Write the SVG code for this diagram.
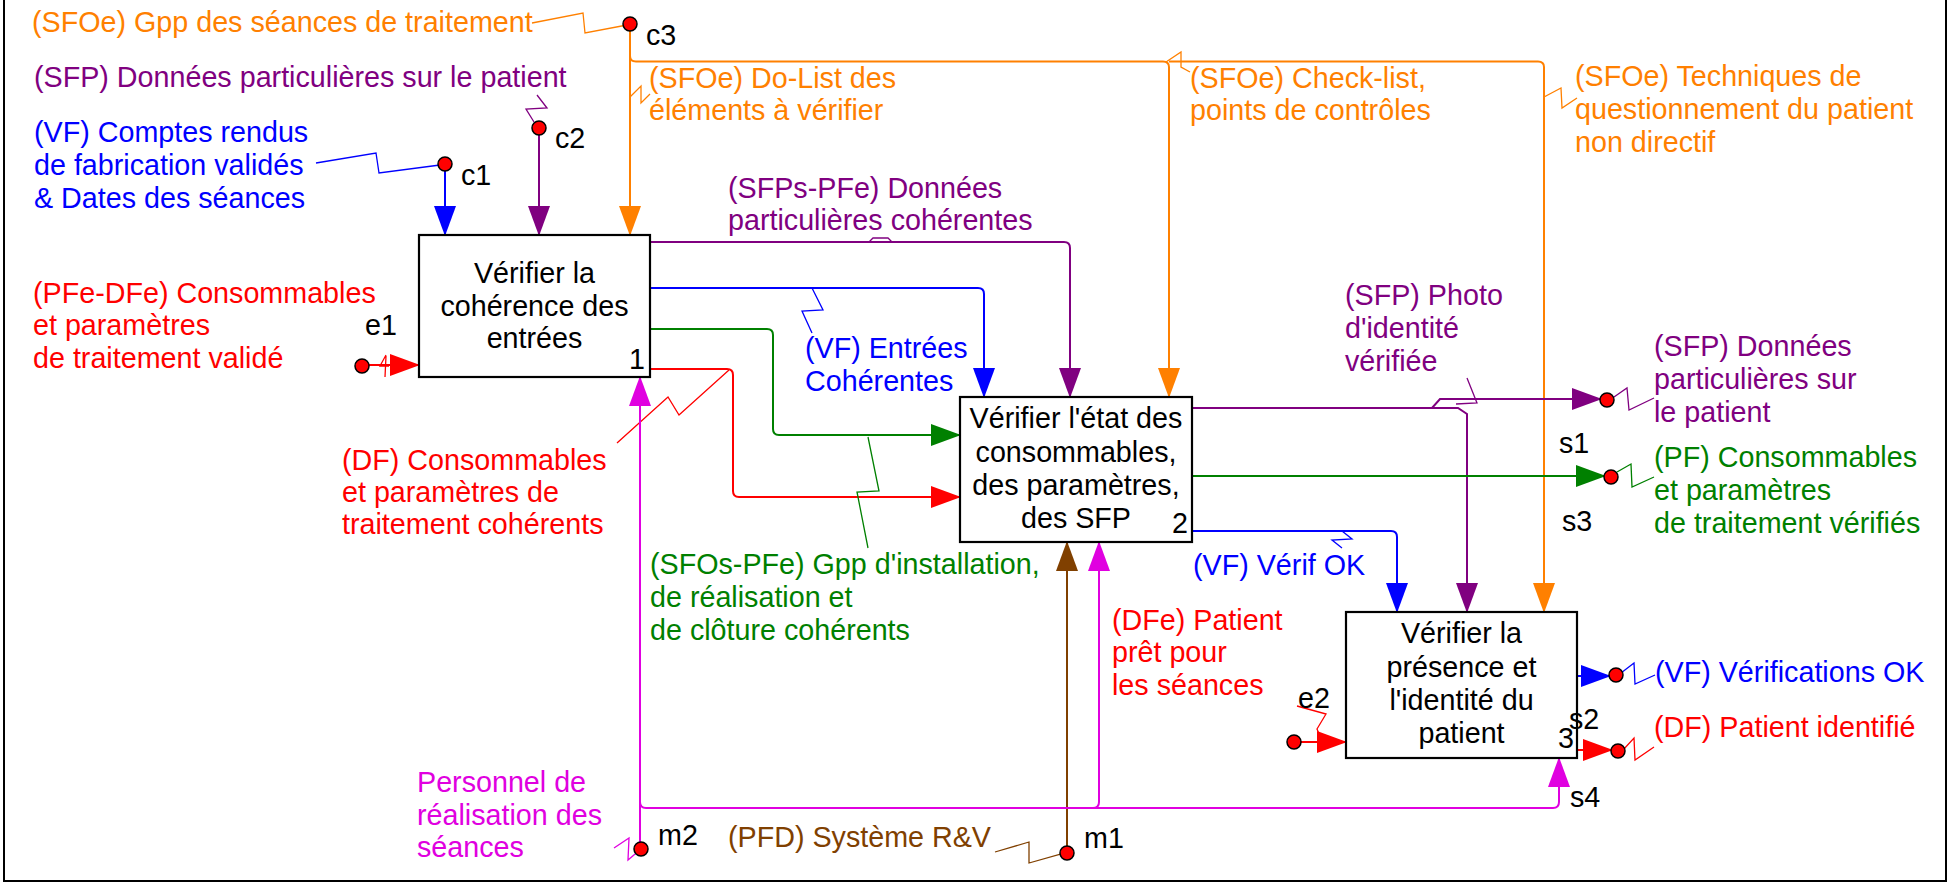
<svg xmlns="http://www.w3.org/2000/svg" width="1954" height="885" viewBox="0 0 1954 885">
<style>
text{font-family:"Liberation Sans",Arial,sans-serif;font-size:28.7px}
.k{fill:#000}.o{fill:#FF8000}.p{fill:#800080}.b{fill:#0000FF}.r{fill:#FF0000}.g{fill:#008000}.n{fill:#804000}.m{fill:#E000E0}
.box{fill:#fff;stroke:#000;stroke-width:2.2}
.c{fill:none;stroke-width:2}
.s{fill:none;stroke-width:1.3}
.so{stroke:#FF8000}.sp{stroke:#800080}.sb{stroke:#0000FF}.sr{stroke:#FF0000}.sg{stroke:#008000}.sn{stroke:#804000}.sm{stroke:#E000E0}
.dot{fill:#FF0000;stroke:#000;stroke-width:1.5}
</style>
<defs>
<marker id="aO" markerUnits="userSpaceOnUse" viewBox="0 0 30 24" markerWidth="30" markerHeight="24" refX="29" refY="12" orient="auto"><path d="M0,1 L30,12 L0,23 Z" fill="#FF8000"/></marker>
<marker id="aP" markerUnits="userSpaceOnUse" viewBox="0 0 30 24" markerWidth="30" markerHeight="24" refX="29" refY="12" orient="auto"><path d="M0,1 L30,12 L0,23 Z" fill="#800080"/></marker>
<marker id="aB" markerUnits="userSpaceOnUse" viewBox="0 0 30 24" markerWidth="30" markerHeight="24" refX="29" refY="12" orient="auto"><path d="M0,1 L30,12 L0,23 Z" fill="#0000FF"/></marker>
<marker id="aR" markerUnits="userSpaceOnUse" viewBox="0 0 30 24" markerWidth="30" markerHeight="24" refX="29" refY="12" orient="auto"><path d="M0,1 L30,12 L0,23 Z" fill="#FF0000"/></marker>
<marker id="aG" markerUnits="userSpaceOnUse" viewBox="0 0 30 24" markerWidth="30" markerHeight="24" refX="29" refY="12" orient="auto"><path d="M0,1 L30,12 L0,23 Z" fill="#008000"/></marker>
<marker id="aN" markerUnits="userSpaceOnUse" viewBox="0 0 30 24" markerWidth="30" markerHeight="24" refX="29" refY="12" orient="auto"><path d="M0,1 L30,12 L0,23 Z" fill="#804000"/></marker>
<marker id="aM" markerUnits="userSpaceOnUse" viewBox="0 0 30 24" markerWidth="30" markerHeight="24" refX="29" refY="12" orient="auto"><path d="M0,1 L30,12 L0,23 Z" fill="#E000E0"/></marker>
</defs>
<rect x="0" y="0" width="1954" height="885" fill="#fff"/>
<path d="M4,0 V881 H1946 V0" fill="none" stroke="#000" stroke-width="2"/>

<g id="connectors">
<!-- orange controls -->
<path class="c so" d="M630,24 V235" marker-end="url(#aO)"/>
<path class="c so" d="M630,56 Q630,61.5 636,61.5 H1163 Q1169,61.5 1169,67 V397" marker-end="url(#aO)"/>
<path class="c so" d="M1169,61.5 H1538 Q1544,61.5 1544,67 V612" marker-end="url(#aO)"/>
<path class="s so" d="M532,23 L583,13 L585,33 L627,25"/>
<path class="s so" d="M630,97 L641,86 L641,103 L650,94"/>
<path class="s so" d="M1166,62 L1181,52 L1181,67 L1190,72"/>
<path class="s so" d="M1544,97 L1561,88 L1562,108 L1577,98"/>
<!-- purple -->
<path class="c sp" d="M539,128 V235" marker-end="url(#aP)"/>
<path class="s sp" d="M537,95 L547,108 L526,109 L534,122"/>
<path class="c sp" d="M650,242 H1064 Q1070,242 1070,248 V397" marker-end="url(#aP)"/>
<path class="s sp" d="M869,242 L873,238 L888,238 L892,242"/>
<path class="c sp" d="M1192,408 H1432 L1440,399 H1601" marker-end="url(#aP)"/>
<path class="c sp" d="M1432,408 H1458 L1467,414 V612" marker-end="url(#aP)"/>
<path class="s sp" d="M1467,378 L1477,403 L1456,404"/>
<path class="s sp" d="M1614,397 L1627,388 L1629,410 L1654,398"/>
<!-- blue -->
<path class="c sb" d="M445,164 V235" marker-end="url(#aB)"/>
<path class="s sb" d="M316,163 L376,153 L379,173 L440,165"/>
<path class="c sb" d="M650,288 H978 Q984,288 984,294 V397" marker-end="url(#aB)"/>
<path class="s sb" d="M812,288 L823,310 L802,311 L812,333"/>
<path class="c sb" d="M1192,531 H1391 Q1397,531 1397,537 V612" marker-end="url(#aB)"/>
<path class="s sb" d="M1342,531 L1352,539 L1332,540 L1342,548"/>
<path class="c sb" d="M1577,676 H1610" marker-end="url(#aB)"/>
<path class="s sb" d="M1621,673 L1634,663 L1635,684 L1655,675"/>
<!-- red -->
<path class="c sr" d="M362,365 H419" marker-end="url(#aR)"/>
<path class="s sr" d="M386,355 L380,366 L389,366 M386,356 L385,377"/>
<path class="c sr" d="M650,369 H727 Q733,369 733,375 V491 Q733,497 739,497 H960" marker-end="url(#aR)"/>
<path class="s sr" d="M617,443 L668,397 L679,415 L729,370"/>
<path class="c sr" d="M1294,742 H1346" marker-end="url(#aR)"/>
<path class="s sr" d="M1297,706 L1326,714 L1317,729 L1322,741"/>
<path class="c sr" d="M1577,750 H1612" marker-end="url(#aR)"/>
<path class="s sr" d="M1623,750 L1634,738 L1635,760 L1654,747"/>
<!-- green -->
<path class="c sg" d="M650,329 H767 Q773,329 773,335 V429 Q773,435 779,435 H960" marker-end="url(#aG)"/>
<path class="s sg" d="M868,437 L879,491 L857,492 L868,548"/>
<path class="c sg" d="M1192,476 H1605" marker-end="url(#aG)"/>
<path class="s sg" d="M1617,472 L1631,464 L1632,487 L1654,477"/>
<!-- brown -->
<path class="c sn" d="M1067,853 V542" marker-end="url(#aN)"/>
<path class="s sn" d="M995,852 L1029,842 L1029,863 L1064,853"/>
<!-- magenta -->
<path class="c sm" d="M640,849 V377" marker-end="url(#aM)"/>
<path class="c sm" d="M640,802 Q640,808 646,808 H1553 Q1559,808 1559,802 V758" marker-end="url(#aM)"/>
<path class="c sm" d="M1093,808 Q1099,808 1099,802 V542" marker-end="url(#aM)"/>
<path class="s sm" d="M614,848 L629,838 L628,860 L641,849"/>
<!-- tunnel dots -->
<circle class="dot" cx="445" cy="164" r="7"/>
<circle class="dot" cx="539" cy="128" r="7"/>
<circle class="dot" cx="630" cy="24" r="7"/>
<circle class="dot" cx="362" cy="366" r="7"/>
<circle class="dot" cx="1294" cy="742" r="7"/>
<circle class="dot" cx="1067" cy="853" r="7"/>
<circle class="dot" cx="641" cy="849" r="7"/>
<circle class="dot" cx="1607" cy="400" r="7"/>
<circle class="dot" cx="1611" cy="477" r="7"/>
<circle class="dot" cx="1616" cy="675" r="7"/>
<circle class="dot" cx="1618" cy="751" r="7"/>
</g>

<g id="box1">
<rect class="box" x="419" y="235" width="231" height="142"/>
<text class="k" x="534.5" y="283" text-anchor="middle">Vérifier la</text>
<text class="k" x="534.5" y="316" text-anchor="middle">cohérence des</text>
<text class="k" x="534.5" y="348" text-anchor="middle">entrées</text>
<text class="k" x="645" y="369" text-anchor="end">1</text>
</g>
<g id="box2">
<rect class="box" x="960" y="397" width="232" height="145"/>
<text class="k" x="1076" y="428" text-anchor="middle">Vérifier l'état des</text>
<text class="k" x="1076" y="462" text-anchor="middle">consommables,</text>
<text class="k" x="1076" y="495" text-anchor="middle">des paramètres,</text>
<text class="k" x="1076" y="528" text-anchor="middle">des SFP</text>
<text class="k" x="1188" y="533" text-anchor="end">2</text>
</g>
<g id="box3">
<rect class="box" x="1346" y="612" width="231" height="146"/>
<text class="k" x="1461.5" y="643" text-anchor="middle">Vérifier la</text>
<text class="k" x="1461.5" y="677" text-anchor="middle">présence et</text>
<text class="k" x="1461.5" y="710" text-anchor="middle">l'identité du</text>
<text class="k" x="1461.5" y="743" text-anchor="middle">patient</text>
<text class="k" x="1574" y="748" text-anchor="end">3</text>
</g>

<g id="tunnel-labels">
<text class="k" x="461" y="185">c1</text>
<text class="k" x="555" y="148">c2</text>
<text class="k" x="646" y="45">c3</text>
<text class="k" x="365" y="335">e1</text>
<text class="k" x="1298" y="708">e2</text>
<text class="k" x="1084" y="848">m1</text>
<text class="k" x="658" y="845">m2</text>
<text class="k" x="1559" y="453">s1</text>
<text class="k" x="1569" y="729">s2</text>
<text class="k" x="1562" y="531">s3</text>
<text class="k" x="1570" y="807">s4</text>
</g>

<g id="arrow-labels">
<text class="o" x="32" y="32">(SFOe) Gpp des séances de traitement</text>
<text class="p" x="34" y="87">(SFP) Données particulières sur le patient</text>
<text class="b" x="34" y="142">(VF) Comptes rendus</text>
<text class="b" x="34" y="175">de fabrication validés</text>
<text class="b" x="34" y="208">&amp; Dates des séances</text>
<text class="r" x="33" y="303">(PFe-DFe) Consommables</text>
<text class="r" x="33" y="335">et paramètres</text>
<text class="r" x="33" y="368">de traitement validé</text>
<text class="o" x="649" y="88">(SFOe) Do-List des</text>
<text class="o" x="649" y="120">éléments à vérifier</text>
<text class="o" x="1190" y="88">(SFOe) Check-list,</text>
<text class="o" x="1190" y="120">points de contrôles</text>
<text class="o" x="1575" y="86">(SFOe) Techniques de</text>
<text class="o" x="1575" y="119">questionnement du patient</text>
<text class="o" x="1575" y="152">non directif</text>
<text class="p" x="728" y="198">(SFPs-PFe) Données</text>
<text class="p" x="728" y="230">particulières cohérentes</text>
<text class="b" x="805" y="358">(VF) Entrées</text>
<text class="b" x="805" y="391">Cohérentes</text>
<text class="r" x="342" y="470">(DF) Consommables</text>
<text class="r" x="342" y="502">et paramètres de</text>
<text class="r" x="342" y="534">traitement cohérents</text>
<text class="g" x="650" y="574">(SFOs-PFe) Gpp d'installation,</text>
<text class="g" x="650" y="607">de réalisation et</text>
<text class="g" x="650" y="640">de clôture cohérents</text>
<text class="p" x="1345" y="305">(SFP) Photo</text>
<text class="p" x="1345" y="338">d'identité</text>
<text class="p" x="1345" y="371">vérifiée</text>
<text class="p" x="1654" y="356">(SFP) Données</text>
<text class="p" x="1654" y="389">particulières sur</text>
<text class="p" x="1654" y="422">le patient</text>
<text class="g" x="1654" y="467">(PF) Consommables</text>
<text class="g" x="1654" y="500">et paramètres</text>
<text class="g" x="1654" y="533">de traitement vérifiés</text>
<text class="b" x="1193" y="575">(VF) Vérif OK</text>
<text class="r" x="1112" y="630">(DFe) Patient</text>
<text class="r" x="1112" y="662">prêt pour</text>
<text class="r" x="1112" y="695">les séances</text>
<text class="b" x="1655" y="682">(VF) Vérifications OK</text>
<text class="r" x="1654" y="737">(DF) Patient identifié</text>
<text class="m" x="417" y="792">Personnel de</text>
<text class="m" x="417" y="825">réalisation des</text>
<text class="m" x="417" y="857">séances</text>
<text class="n" x="728" y="847">(PFD) Système R&amp;V</text>
</g>
</svg>
